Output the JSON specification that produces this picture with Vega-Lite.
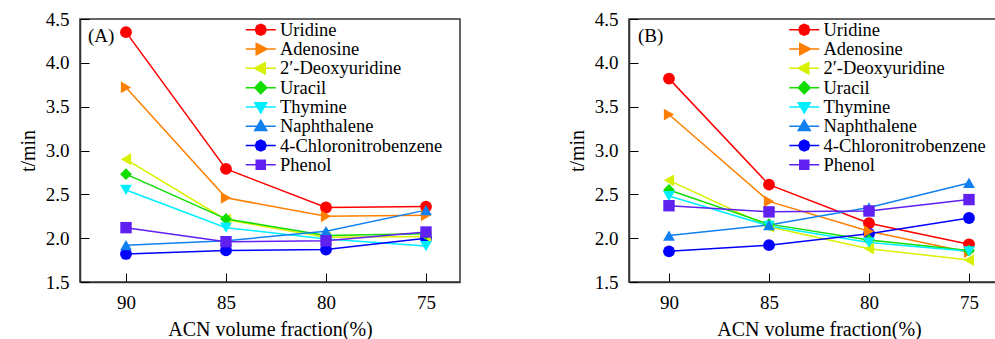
{
  "$schema": "https://vega.github.io/schema/vega-lite/v6.json",
  "padding": {"left": 17, "top": 9, "right": 0, "bottom": 0},
  "spacing": 105,
  "datasets": {
    "A": [
      {"c": "Uridine", "acn": 90, "t": 4.35}, {"c": "Uridine", "acn": 85, "t": 2.79}, {"c": "Uridine", "acn": 80, "t": 2.35}, {"c": "Uridine", "acn": 75, "t": 2.36},
      {"c": "Adenosine", "acn": 90, "t": 3.72}, {"c": "Adenosine", "acn": 85, "t": 2.46}, {"c": "Adenosine", "acn": 80, "t": 2.25}, {"c": "Adenosine", "acn": 75, "t": 2.26},
      {"c": "2′-Deoxyuridine", "acn": 90, "t": 2.9}, {"c": "2′-Deoxyuridine", "acn": 85, "t": 2.21}, {"c": "2′-Deoxyuridine", "acn": 80, "t": 2.01}, {"c": "2′-Deoxyuridine", "acn": 75, "t": 2.02},
      {"c": "Uracil", "acn": 90, "t": 2.73}, {"c": "Uracil", "acn": 85, "t": 2.22}, {"c": "Uracil", "acn": 80, "t": 2.03}, {"c": "Uracil", "acn": 75, "t": 2.05},
      {"c": "Thymine", "acn": 90, "t": 2.55}, {"c": "Thymine", "acn": 85, "t": 2.12}, {"c": "Thymine", "acn": 80, "t": 1.99}, {"c": "Thymine", "acn": 75, "t": 1.91},
      {"c": "Naphthalene", "acn": 90, "t": 1.92}, {"c": "Naphthalene", "acn": 85, "t": 1.97}, {"c": "Naphthalene", "acn": 80, "t": 2.08}, {"c": "Naphthalene", "acn": 75, "t": 2.32},
      {"c": "4-Chloronitrobenzene", "acn": 90, "t": 1.82}, {"c": "4-Chloronitrobenzene", "acn": 85, "t": 1.86}, {"c": "4-Chloronitrobenzene", "acn": 80, "t": 1.87}, {"c": "4-Chloronitrobenzene", "acn": 75, "t": 2.0},
      {"c": "Phenol", "acn": 90, "t": 2.12}, {"c": "Phenol", "acn": 85, "t": 1.96}, {"c": "Phenol", "acn": 80, "t": 1.97}, {"c": "Phenol", "acn": 75, "t": 2.07}
    ],
    "B": [
      {"c": "Uridine", "acn": 90, "t": 3.82}, {"c": "Uridine", "acn": 85, "t": 2.61}, {"c": "Uridine", "acn": 80, "t": 2.17}, {"c": "Uridine", "acn": 75, "t": 1.93},
      {"c": "Adenosine", "acn": 90, "t": 3.41}, {"c": "Adenosine", "acn": 85, "t": 2.42}, {"c": "Adenosine", "acn": 80, "t": 2.08}, {"c": "Adenosine", "acn": 75, "t": 1.84},
      {"c": "2′-Deoxyuridine", "acn": 90, "t": 2.66}, {"c": "2′-Deoxyuridine", "acn": 85, "t": 2.13}, {"c": "2′-Deoxyuridine", "acn": 80, "t": 1.88}, {"c": "2′-Deoxyuridine", "acn": 75, "t": 1.75},
      {"c": "Uracil", "acn": 90, "t": 2.55}, {"c": "Uracil", "acn": 85, "t": 2.16}, {"c": "Uracil", "acn": 80, "t": 1.98}, {"c": "Uracil", "acn": 75, "t": 1.86},
      {"c": "Thymine", "acn": 90, "t": 2.48}, {"c": "Thymine", "acn": 85, "t": 2.14}, {"c": "Thymine", "acn": 80, "t": 1.95}, {"c": "Thymine", "acn": 75, "t": 1.85},
      {"c": "Naphthalene", "acn": 90, "t": 2.03}, {"c": "Naphthalene", "acn": 85, "t": 2.15}, {"c": "Naphthalene", "acn": 80, "t": 2.35}, {"c": "Naphthalene", "acn": 75, "t": 2.63},
      {"c": "4-Chloronitrobenzene", "acn": 90, "t": 1.85}, {"c": "4-Chloronitrobenzene", "acn": 85, "t": 1.92}, {"c": "4-Chloronitrobenzene", "acn": 80, "t": 2.05}, {"c": "4-Chloronitrobenzene", "acn": 75, "t": 2.23},
      {"c": "Phenol", "acn": 90, "t": 2.37}, {"c": "Phenol", "acn": 85, "t": 2.3}, {"c": "Phenol", "acn": 80, "t": 2.31}, {"c": "Phenol", "acn": 75, "t": 2.44}
    ]
  },
  "resolve": {"scale": {"color": "independent", "shape": "independent", "fill": "independent", "stroke": "independent"}},
  "hconcat": [
    {
      "width": 380,
      "height": 263,
      "data": {"name": "A"},
      "layer": [
        {
          "mark": {"type": "line", "strokeWidth": 1.5},
          "encoding": {
            "x": {"field": "acn", "type": "quantitative", "title": "ACN volume fraction(%)", "scale": {"domain": [73.3, 92.3], "reverse": true, "nice": false, "zero": false}, "axis": {"values": [90, 85, 80, 75], "format": "d"}},
            "y": {"field": "t", "type": "quantitative", "title": "t/min", "scale": {"domain": [1.5, 4.5], "nice": false, "zero": false}, "axis": {"values": [1.5, 2, 2.5, 3, 3.5, 4, 4.5], "format": ".1f"}},
            "color": {"field": "c", "type": "nominal", "legend": null, "scale": {"domain": ["Phenol", "4-Chloronitrobenzene", "Naphthalene", "Thymine", "Uracil", "2′-Deoxyuridine", "Adenosine", "Uridine"], "range": ["#6020f0", "#0000ff", "#1080f0", "#00eeff", "#11dd00", "#d8f000", "#ff7f00", "#ff0000"]}}
          }
        },
        {"transform": [{"filter": {"field": "c", "oneOf": ["Uridine", "4-Chloronitrobenzene"]}}], "mark": {"type": "point", "shape": "circle", "filled": true, "size": 140, "opacity": 1}, "encoding": {"x": {"field": "acn", "type": "quantitative"}, "y": {"field": "t", "type": "quantitative"}, "color": {"field": "c", "type": "nominal", "legend": null}}},
        {"transform": [{"filter": {"field": "c", "equal": "Adenosine"}}], "mark": {"type": "point", "shape": "triangle-right", "filled": true, "size": 140, "opacity": 1}, "encoding": {"x": {"field": "acn", "type": "quantitative"}, "y": {"field": "t", "type": "quantitative"}, "color": {"field": "c", "type": "nominal", "legend": null}}},
        {"transform": [{"filter": {"field": "c", "equal": "2′-Deoxyuridine"}}], "mark": {"type": "point", "shape": "triangle-left", "filled": true, "size": 140, "opacity": 1}, "encoding": {"x": {"field": "acn", "type": "quantitative"}, "y": {"field": "t", "type": "quantitative"}, "color": {"field": "c", "type": "nominal", "legend": null}}},
        {"transform": [{"filter": {"field": "c", "equal": "Uracil"}}], "mark": {"type": "point", "shape": "diamond", "filled": true, "size": 140, "opacity": 1}, "encoding": {"x": {"field": "acn", "type": "quantitative"}, "y": {"field": "t", "type": "quantitative"}, "color": {"field": "c", "type": "nominal", "legend": null}}},
        {"transform": [{"filter": {"field": "c", "equal": "Thymine"}}], "mark": {"type": "point", "shape": "triangle-down", "filled": true, "size": 140, "opacity": 1}, "encoding": {"x": {"field": "acn", "type": "quantitative"}, "y": {"field": "t", "type": "quantitative"}, "color": {"field": "c", "type": "nominal", "legend": null}}},
        {"transform": [{"filter": {"field": "c", "equal": "Naphthalene"}}], "mark": {"type": "point", "shape": "triangle-up", "filled": true, "size": 140, "opacity": 1}, "encoding": {"x": {"field": "acn", "type": "quantitative"}, "y": {"field": "t", "type": "quantitative"}, "color": {"field": "c", "type": "nominal", "legend": null}}},
        {"transform": [{"filter": {"field": "c", "equal": "Phenol"}}], "mark": {"type": "point", "shape": "square", "filled": true, "size": 130, "opacity": 1}, "encoding": {"x": {"field": "acn", "type": "quantitative"}, "y": {"field": "t", "type": "quantitative"}, "color": {"field": "c", "type": "nominal", "legend": null}}},
        {
          "mark": {"type": "point", "filled": true, "size": 140, "opacity": 0},
          "encoding": {
            "x": {"field": "acn", "type": "quantitative"},
            "y": {"field": "t", "type": "quantitative"},
            "fill": {"field": "c", "type": "nominal", "scale": {"domain": ["Uridine", "Adenosine", "2′-Deoxyuridine", "Uracil", "Thymine", "Naphthalene", "4-Chloronitrobenzene", "Phenol"], "range": ["#ff0000", "#ff7f00", "#d8f000", "#11dd00", "#00eeff", "#1080f0", "#0000ff", "#6020f0"]},
              "legend": {"orient": "none", "legendX": 171.5, "legendY": 1.5, "title": null, "labelFont": "Liberation Serif", "labelFontSize": 18.5, "labelColor": "#000", "labelLimit": 400, "symbolSize": 225, "labelOffset": 10, "rowPadding": 0.3, "padding": 0, "symbolStrokeWidth": 1.5, "symbolOpacity": 1}},
            "stroke": {"field": "c", "type": "nominal", "scale": {"domain": ["Uridine", "Adenosine", "2′-Deoxyuridine", "Uracil", "Thymine", "Naphthalene", "4-Chloronitrobenzene", "Phenol"], "range": ["#ff0000", "#ff7f00", "#d8f000", "#11dd00", "#00eeff", "#1080f0", "#0000ff", "#6020f0"]},
              "legend": {"orient": "none", "legendX": 171.5, "legendY": 1.5, "title": null, "labelFont": "Liberation Serif", "labelFontSize": 18.5, "labelColor": "#000", "labelLimit": 400, "symbolSize": 225, "labelOffset": 10, "rowPadding": 0.3, "padding": 0, "symbolStrokeWidth": 1.5, "symbolOpacity": 1}},
            "shape": {"field": "c", "type": "nominal", "scale": {"domain": ["Uridine", "Adenosine", "2′-Deoxyuridine", "Uracil", "Thymine", "Naphthalene", "4-Chloronitrobenzene", "Phenol"], "range": ["M-2,0H2M0.72,0L0.51,0.51L0,0.72L-0.51,0.51L-0.72,0L-0.51,-0.51L0,-0.72L0.51,-0.51Z", "M-2,0H2M-0.6,-0.75L0.85,0L-0.6,0.75Z", "M-2,0H2M0.6,-0.75L-0.85,0L0.6,0.75Z", "M-2,0H2M0,-0.8L0.8,0L0,0.8L-0.8,0Z", "M-2,0H2M-0.8,-0.55L0.8,-0.55L0,0.8Z", "M-2,0H2M-0.8,0.55L0.8,0.55L0,-0.8Z", "M-2,0H2M0.72,0L0.51,0.51L0,0.72L-0.51,0.51L-0.72,0L-0.51,-0.51L0,-0.72L0.51,-0.51Z", "M-2,0H2M-0.6,-0.6H0.6V0.6H-0.6Z"]},
              "legend": {"orient": "none", "legendX": 171.5, "legendY": 1.5, "title": null, "labelFont": "Liberation Serif", "labelFontSize": 18.5, "labelColor": "#000", "labelLimit": 400, "symbolSize": 225, "labelOffset": 10, "rowPadding": 0.3, "padding": 0, "symbolStrokeWidth": 1.5, "symbolOpacity": 1}}
          }
        },
        {
          "data": {"values": [{"lab": "(A)"}]},
          "mark": {"type": "text", "align": "left", "baseline": "middle", "font": "Liberation Serif", "fontSize": 19, "color": "#000"},
          "encoding": {"x": {"datum": 91.9, "type": "quantitative"}, "y": {"datum": 4.31, "type": "quantitative"}, "text": {"field": "lab"}}
        }
      ]
    },
    {
      "width": 380,
      "height": 263,
      "data": {"name": "B"},
      "layer": [
        {
          "mark": {"type": "line", "strokeWidth": 1.5},
          "encoding": {
            "x": {"field": "acn", "type": "quantitative", "title": "ACN volume fraction(%)", "scale": {"domain": [73.0, 92.0], "reverse": true, "nice": false, "zero": false}, "axis": {"values": [90, 85, 80, 75], "format": "d"}},
            "y": {"field": "t", "type": "quantitative", "title": "t/min", "scale": {"domain": [1.5, 4.5], "nice": false, "zero": false}, "axis": {"values": [1.5, 2, 2.5, 3, 3.5, 4, 4.5], "format": ".1f"}},
            "color": {"field": "c", "type": "nominal", "legend": null, "scale": {"domain": ["Phenol", "4-Chloronitrobenzene", "Naphthalene", "Thymine", "Uracil", "2′-Deoxyuridine", "Adenosine", "Uridine"], "range": ["#6020f0", "#0000ff", "#1080f0", "#00eeff", "#11dd00", "#d8f000", "#ff7f00", "#ff0000"]}}
          }
        },
        {"transform": [{"filter": {"field": "c", "oneOf": ["Uridine", "4-Chloronitrobenzene"]}}], "mark": {"type": "point", "shape": "circle", "filled": true, "size": 140, "opacity": 1}, "encoding": {"x": {"field": "acn", "type": "quantitative"}, "y": {"field": "t", "type": "quantitative"}, "color": {"field": "c", "type": "nominal", "legend": null}}},
        {"transform": [{"filter": {"field": "c", "equal": "Adenosine"}}], "mark": {"type": "point", "shape": "triangle-right", "filled": true, "size": 140, "opacity": 1}, "encoding": {"x": {"field": "acn", "type": "quantitative"}, "y": {"field": "t", "type": "quantitative"}, "color": {"field": "c", "type": "nominal", "legend": null}}},
        {"transform": [{"filter": {"field": "c", "equal": "2′-Deoxyuridine"}}], "mark": {"type": "point", "shape": "triangle-left", "filled": true, "size": 140, "opacity": 1}, "encoding": {"x": {"field": "acn", "type": "quantitative"}, "y": {"field": "t", "type": "quantitative"}, "color": {"field": "c", "type": "nominal", "legend": null}}},
        {"transform": [{"filter": {"field": "c", "equal": "Uracil"}}], "mark": {"type": "point", "shape": "diamond", "filled": true, "size": 140, "opacity": 1}, "encoding": {"x": {"field": "acn", "type": "quantitative"}, "y": {"field": "t", "type": "quantitative"}, "color": {"field": "c", "type": "nominal", "legend": null}}},
        {"transform": [{"filter": {"field": "c", "equal": "Thymine"}}], "mark": {"type": "point", "shape": "triangle-down", "filled": true, "size": 140, "opacity": 1}, "encoding": {"x": {"field": "acn", "type": "quantitative"}, "y": {"field": "t", "type": "quantitative"}, "color": {"field": "c", "type": "nominal", "legend": null}}},
        {"transform": [{"filter": {"field": "c", "equal": "Naphthalene"}}], "mark": {"type": "point", "shape": "triangle-up", "filled": true, "size": 140, "opacity": 1}, "encoding": {"x": {"field": "acn", "type": "quantitative"}, "y": {"field": "t", "type": "quantitative"}, "color": {"field": "c", "type": "nominal", "legend": null}}},
        {"transform": [{"filter": {"field": "c", "equal": "Phenol"}}], "mark": {"type": "point", "shape": "square", "filled": true, "size": 130, "opacity": 1}, "encoding": {"x": {"field": "acn", "type": "quantitative"}, "y": {"field": "t", "type": "quantitative"}, "color": {"field": "c", "type": "nominal", "legend": null}}},
        {
          "mark": {"type": "point", "filled": true, "size": 140, "opacity": 0},
          "encoding": {
            "x": {"field": "acn", "type": "quantitative"},
            "y": {"field": "t", "type": "quantitative"},
            "fill": {"field": "c", "type": "nominal", "scale": {"domain": ["Uridine", "Adenosine", "2′-Deoxyuridine", "Uracil", "Thymine", "Naphthalene", "4-Chloronitrobenzene", "Phenol"], "range": ["#ff0000", "#ff7f00", "#d8f000", "#11dd00", "#00eeff", "#1080f0", "#0000ff", "#6020f0"]},
              "legend": {"orient": "none", "legendX": 166, "legendY": 1.5, "title": null, "labelFont": "Liberation Serif", "labelFontSize": 18.5, "labelColor": "#000", "labelLimit": 400, "symbolSize": 225, "labelOffset": 10, "rowPadding": 0.3, "padding": 0, "symbolStrokeWidth": 1.5, "symbolOpacity": 1}},
            "stroke": {"field": "c", "type": "nominal", "scale": {"domain": ["Uridine", "Adenosine", "2′-Deoxyuridine", "Uracil", "Thymine", "Naphthalene", "4-Chloronitrobenzene", "Phenol"], "range": ["#ff0000", "#ff7f00", "#d8f000", "#11dd00", "#00eeff", "#1080f0", "#0000ff", "#6020f0"]},
              "legend": {"orient": "none", "legendX": 166, "legendY": 1.5, "title": null, "labelFont": "Liberation Serif", "labelFontSize": 18.5, "labelColor": "#000", "labelLimit": 400, "symbolSize": 225, "labelOffset": 10, "rowPadding": 0.3, "padding": 0, "symbolStrokeWidth": 1.5, "symbolOpacity": 1}},
            "shape": {"field": "c", "type": "nominal", "scale": {"domain": ["Uridine", "Adenosine", "2′-Deoxyuridine", "Uracil", "Thymine", "Naphthalene", "4-Chloronitrobenzene", "Phenol"], "range": ["M-2,0H2M0.72,0L0.51,0.51L0,0.72L-0.51,0.51L-0.72,0L-0.51,-0.51L0,-0.72L0.51,-0.51Z", "M-2,0H2M-0.6,-0.75L0.85,0L-0.6,0.75Z", "M-2,0H2M0.6,-0.75L-0.85,0L0.6,0.75Z", "M-2,0H2M0,-0.8L0.8,0L0,0.8L-0.8,0Z", "M-2,0H2M-0.8,-0.55L0.8,-0.55L0,0.8Z", "M-2,0H2M-0.8,0.55L0.8,0.55L0,-0.8Z", "M-2,0H2M0.72,0L0.51,0.51L0,0.72L-0.51,0.51L-0.72,0L-0.51,-0.51L0,-0.72L0.51,-0.51Z", "M-2,0H2M-0.6,-0.6H0.6V0.6H-0.6Z"]},
              "legend": {"orient": "none", "legendX": 166, "legendY": 1.5, "title": null, "labelFont": "Liberation Serif", "labelFontSize": 18.5, "labelColor": "#000", "labelLimit": 400, "symbolSize": 225, "labelOffset": 10, "rowPadding": 0.3, "padding": 0, "symbolStrokeWidth": 1.5, "symbolOpacity": 1}}
          }
        },
        {
          "data": {"values": [{"lab": "(B)"}]},
          "mark": {"type": "text", "align": "left", "baseline": "middle", "font": "Liberation Serif", "fontSize": 19, "color": "#000"},
          "encoding": {"x": {"datum": 91.55, "type": "quantitative"}, "y": {"datum": 4.31, "type": "quantitative"}, "text": {"field": "lab"}}
        }
      ]
    }
  ],
  "config": {
    "font": "Liberation Serif",
    "view": {"stroke": "#333333", "strokeWidth": 1.5},
    "axis": {"labelFont": "Liberation Serif", "labelFontSize": 19, "labelColor": "#000", "titleFont": "Liberation Serif", "titleFontSize": 20, "titleFontWeight": "normal", "titleColor": "#000", "grid": false, "domainColor": "#333333", "domainWidth": 1.5, "tickColor": "#000", "tickWidth": 1, "tickSize": -9, "labelPadding": 20, "titlePadding": 7},
    "legend": {"labelFont": "Liberation Serif", "labelFontSize": 18.5, "labelColor": "#000", "labelLimit": 400, "symbolSize": 225, "labelOffset": 10, "rowPadding": 0.3, "padding": 0, "symbolStrokeWidth": 1.5, "symbolOpacity": 1}
  }
}
